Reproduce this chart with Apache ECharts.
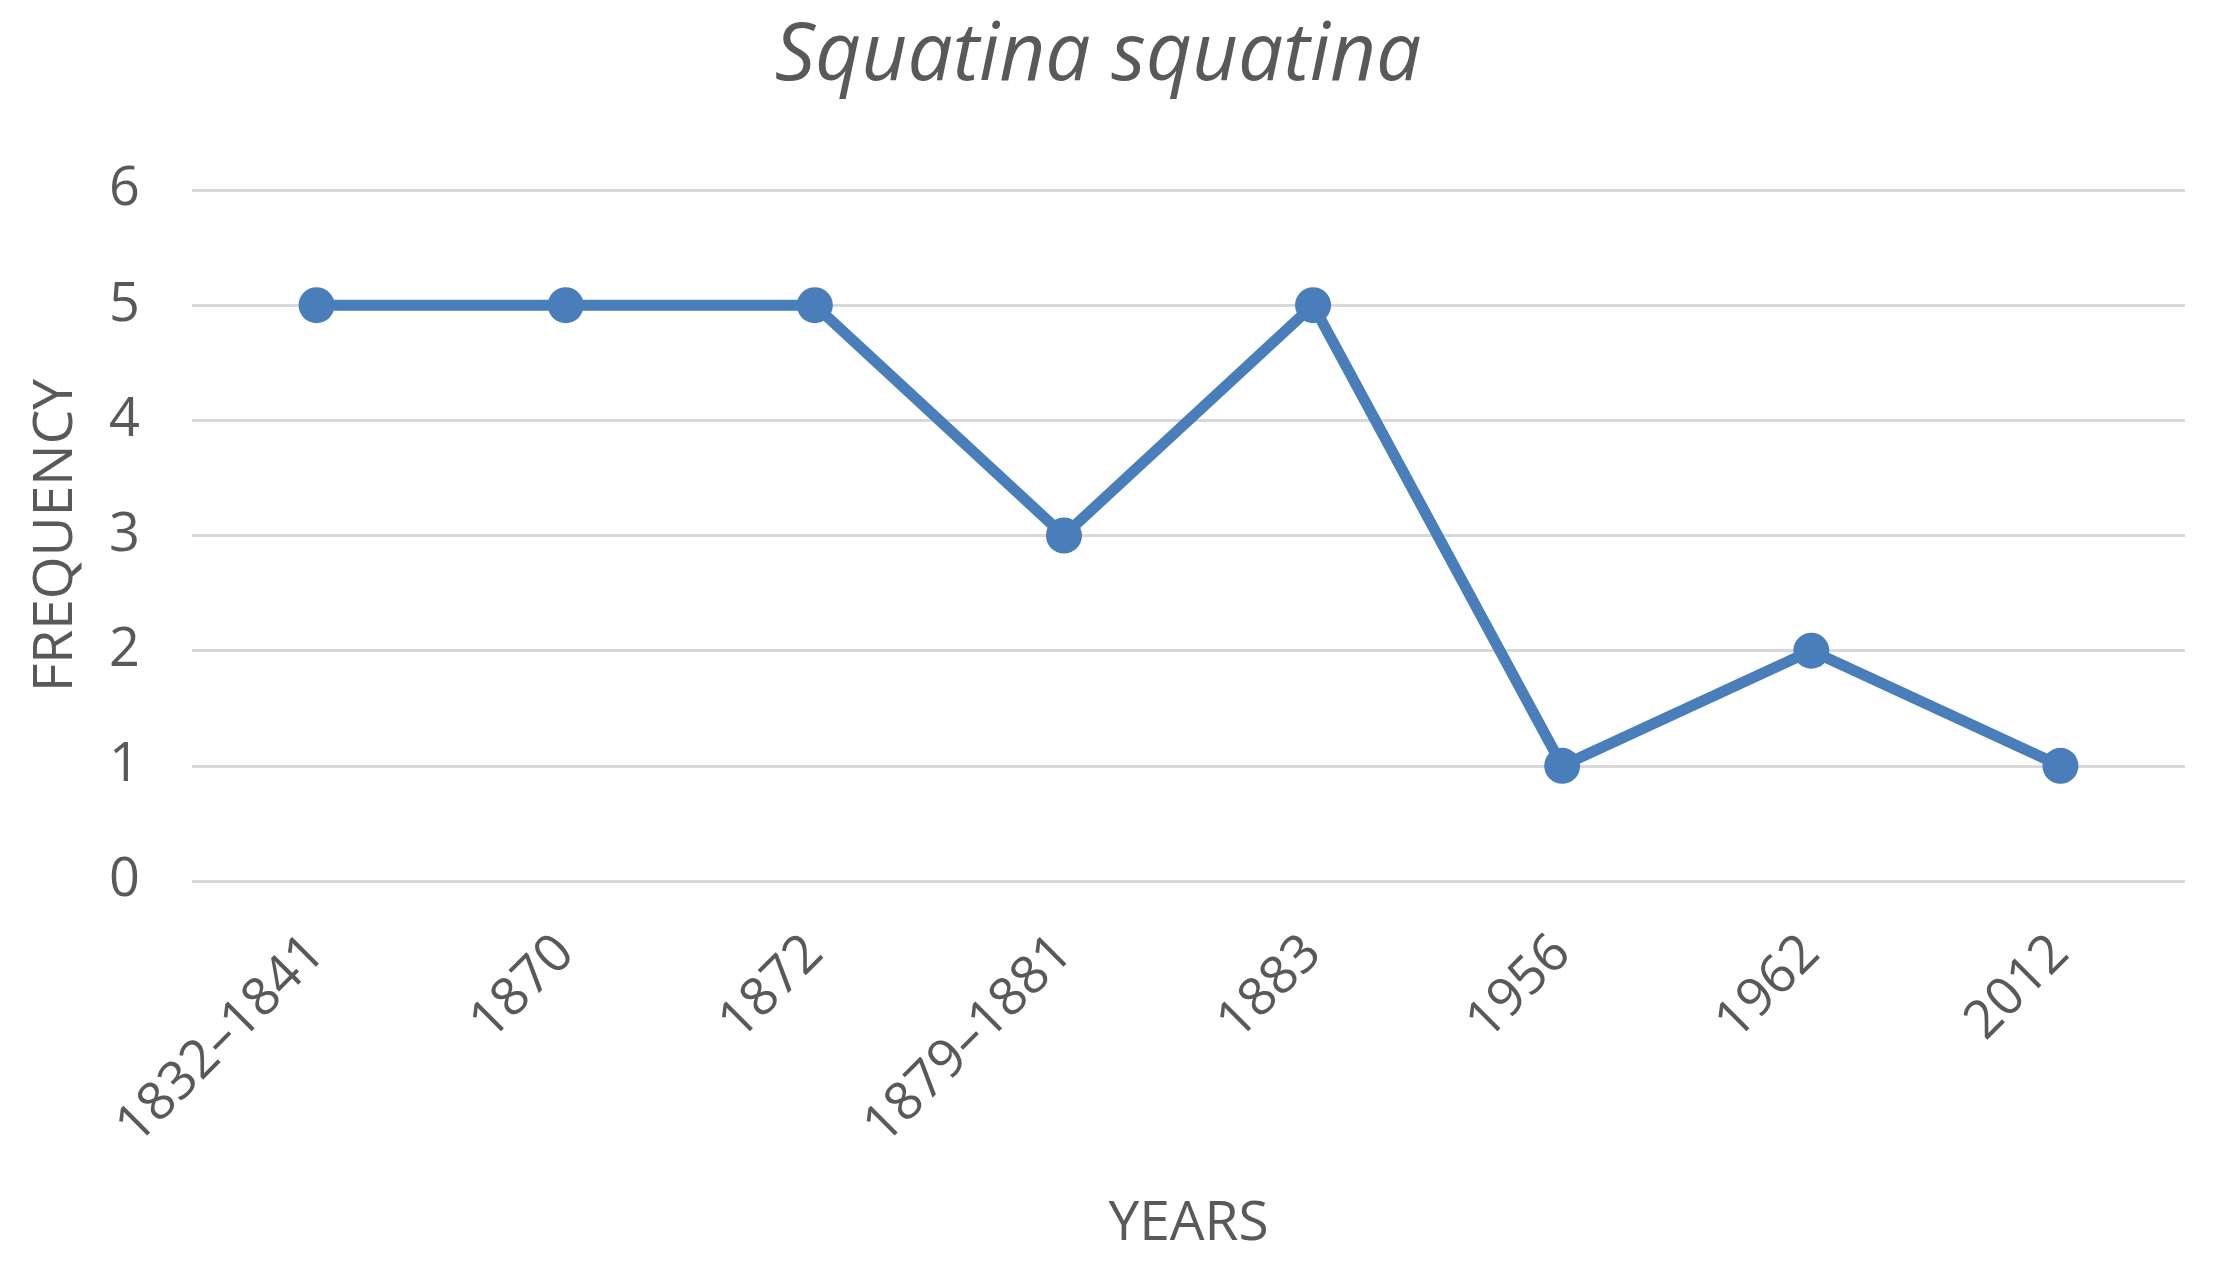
<!DOCTYPE html>
<html>
<head>
<meta charset="utf-8">
<title>Squatina squatina</title>
<script src="https://cdn.jsdelivr.net/npm/echarts@6/dist/echarts.min.js"></script>
<style>
  html, body { margin: 0; padding: 0; background: #fff; }
  #chart { width: 2233px; height: 1269px; }
</style>
</head>
<body>
<div id="chart"></div>
<script>
// data
var years = ['1832–1841', '1870', '1872', '1879–1881', '1883', '1956', '1962', '2012'];
var frequency = [5, 5, 5, 3, 5, 1, 2, 1];
var yTicks = { min: 0, max: 6, interval: 1 };

var textColor = '#595959';
var lineColor = '#4a7ebb';
var font = '"Open Sans", "Noto Sans", sans-serif';

var chart = echarts.init(document.getElementById('chart'));

chart.setOption({
  backgroundColor: '#ffffff',
  animation: false,
  title: {
    text: 'Squatina squatina',
    left: 1093,
    top: 12,
    textAlign: 'center',
    textStyle: {
      fontFamily: font,
      fontStyle: 'italic',
      fontWeight: 'normal',
      fontSize: 80,
      color: textColor
    }
  },
  grid: {
    left: 192,
    right: 48,
    top: 190,
    bottom: 388
  },
  xAxis: {
    type: 'category',
    data: years,
    boundaryGap: true,
    name: 'YEARS',
    nameLocation: 'middle',
    nameGap: 316,
    nameTextStyle: { fontFamily: font, fontSize: 55, color: textColor },
    axisLine: { show: false },
    axisTick: { show: false },
    axisLabel: {
      rotate: 45,
      margin: 64,
      interval: 0,
      fontFamily: font,
      fontSize: 53,
      color: textColor
    }
  },
  yAxis: {
    type: 'value',
    min: yTicks.min,
    max: yTicks.max,
    interval: yTicks.interval,
    name: 'FREQUENCY',
    nameLocation: 'middle',
    nameRotate: 90,
    nameGap: 108,
    nameTextStyle: { fontFamily: font, fontSize: 55, color: textColor },
    axisLine: { show: false },
    axisTick: { show: false },
    axisLabel: {
      margin: 52,
      fontFamily: font,
      fontSize: 54,
      color: textColor
    },
    splitLine: { lineStyle: { color: '#d9d9d9', width: 3 } }
  },
  series: [{
    name: 'Squatina squatina',
    type: 'line',
    data: frequency,
    symbol: 'circle',
    symbolSize: 36,
    lineStyle: { color: lineColor, width: 11 },
    itemStyle: { color: lineColor }
  }]
});
</script>
</body>
</html>
